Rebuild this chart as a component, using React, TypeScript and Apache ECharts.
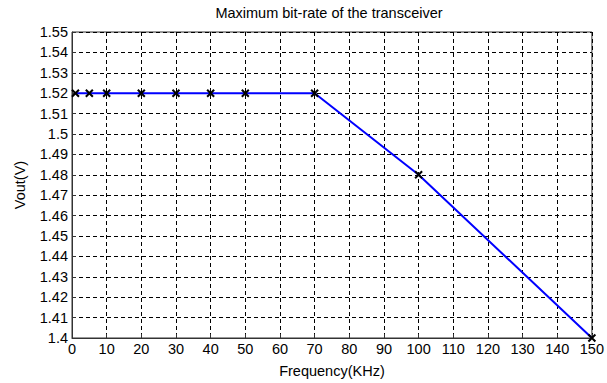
import React, { useEffect, useRef } from "react";
import * as echarts from "echarts";

const frequency = [1, 5, 10, 20, 30, 40, 50, 70, 100, 150];
const vout = [1.52, 1.52, 1.52, 1.52, 1.52, 1.52, 1.52, 1.52, 1.48, 1.4];
const titleText = "Maximum bit-rate of the transceiver";
const xName = "Frequency(KHz)";
const yName = "Vout(V)";

const FONT = "Liberation Sans";
const FS = 14.5;

export default function App() {
  const ref = useRef<HTMLDivElement>(null);
  useEffect(() => {
    if (!ref.current) return;
    const chart = echarts.init(ref.current, undefined, { renderer: "svg" });
    const data = frequency.map((f, i) => [f, vout[i]]);
    chart.setOption({
      animation: false,
      backgroundColor: "#ffffff",
      title: {
        text: titleText,
        left: 329,
        top: 5,
        padding: 0,
        textAlign: "center",
        textStyle: { fontFamily: FONT, fontSize: FS, fontWeight: "normal", color: "#000" },
      },
      grid: {
        left: 72,
        right: 13,
        top: 32,
        bottom: 41,
        show: true,
        borderColor: "#333",
        borderWidth: 1,
        backgroundColor: "#fff",
      },
      xAxis: {
        type: "value",
        min: 0,
        max: 150,
        interval: 10,
        name: xName,
        nameLocation: "middle",
        nameGap: 25,
        nameTextStyle: { fontFamily: FONT, fontSize: FS, color: "#000" },
        axisLine: { show: true, lineStyle: { color: "#333", width: 1 } },
        axisTick: { show: true, inside: true, length: 4, lineStyle: { color: "#333" } },
        axisLabel: { fontFamily: FONT, fontSize: FS, color: "#000", margin: 3 },
        splitLine: { show: true, lineStyle: { color: "#000", type: [4, 3], width: 1 } },
      },
      yAxis: {
        type: "value",
        min: 1.4,
        max: 1.55,
        interval: 0.01,
        name: yName,
        nameLocation: "middle",
        nameGap: 45,
        nameTextStyle: { fontFamily: FONT, fontSize: FS, color: "#000" },
        axisLine: { show: true, lineStyle: { color: "#333", width: 1 } },
        axisTick: { show: true, inside: true, length: 4, lineStyle: { color: "#333" } },
        axisLabel: {
          fontFamily: FONT,
          fontSize: FS,
          color: "#000",
          margin: 4,
          formatter: (v: number) => parseFloat(v.toFixed(2)).toString(),
        },
        splitLine: { show: true, lineStyle: { color: "#000", type: [4, 3], width: 1 } },
      },
      series: [
        {
          type: "line",
          data,
          clip: false,
          symbol: "path://M0,0L10,10M10,0L0,10",
          symbolSize: 7,
          showAllSymbol: true,
          lineStyle: { color: "#0000ff", width: 2 },
          itemStyle: { color: "rgba(0,0,0,0)", borderColor: "#000", borderWidth: 2 },
          z: 3,
        },
      ],
    });
    return () => chart.dispose();
  }, []);
  return (
    <div
      ref={ref}
      style={{ position: "fixed", left: 0, top: 0, width: 607, height: 383 }}
    />
  );
}
